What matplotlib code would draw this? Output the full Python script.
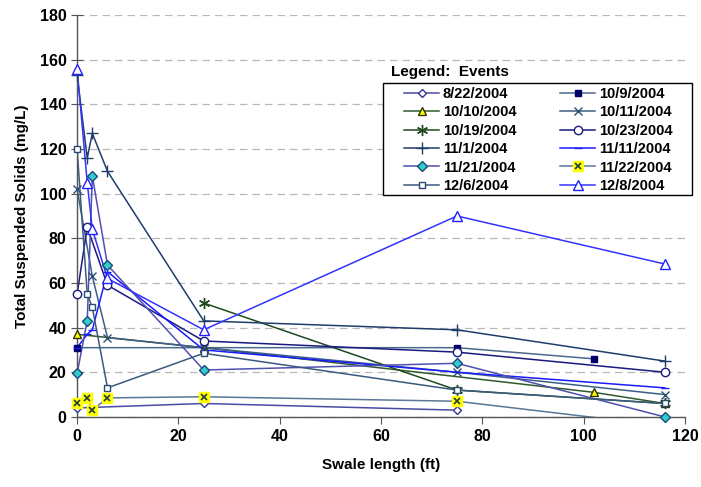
import matplotlib
matplotlib.use("Agg")
import matplotlib.pyplot as plt
from matplotlib.legend_handler import HandlerTuple
from matplotlib.lines import Line2D
from matplotlib.patches import Rectangle

plt.rcParams['font.family'] = ['Liberation Sans', 'DejaVu Sans']

# ---- data ----
events = ["8/22/2004", "10/9/2004", "10/10/2004", "10/11/2004", "10/19/2004", "10/23/2004",
          "11/1/2004", "11/11/2004", "11/21/2004", "11/22/2004", "12/6/2004", "12/8/2004"]

x_0822 = [0, 25, 75]
y_0822 = [4, 6, 3]
x_1009 = [0, 75, 102]
y_1009 = [31, 31, 26]
x_1010 = [0, 25, 102, 116]
y_1010 = [37, 31, 11, 6]
x_1011 = [0, 3, 6, 25, 75, 116]
y_1011 = [102, 63, 35.5, 31, 20, 10]
x_1019 = [25, 75, 116]
y_1019 = [51, 12, 6]
x_1023 = [0, 2, 6, 25, 75, 116]
y_1023 = [55, 85, 59, 34, 29, 20]
x_1101 = [0, 2, 3, 6, 25, 75, 116]
y_1101 = [153, 116, 127, 110, 43, 39, 25]
x_1111 = [0, 2, 3, 6, 25, 75, 116]
y_1111 = [31, 37, 39, 65, 30, 20, 13]
x_1121 = [0, 2, 3, 6, 25, 75, 116]
y_1121 = [19.5, 43, 108, 68, 21, 24, 0]
x_1122 = [0, 2, 3, 6, 25, 75, 116]
y_1122 = [6, 8.5, 3, 8.5, 9, 7, -4]
x_1206 = [0, 2, 3, 6, 25, 75, 116]
y_1206 = [120, 55, 49, 13, 28.5, 12, 6]
x_1208 = [0, 2, 3, 6, 25, 75, 116]
y_1208 = [156, 105, 84, 62, 39, 90, 68.5]

xs = [x_0822, x_1009, x_1010, x_1011, x_1019, x_1023, x_1101, x_1111, x_1121, x_1122, x_1206, x_1208]
ys = [y_0822, y_1009, y_1010, y_1011, y_1019, y_1023, y_1101, y_1111, y_1121, y_1122, y_1206, y_1208]

yticks = [0, 20, 40, 60, 80, 100, 120, 140, 160, 180]
xticks = [0, 20, 40, 60, 80, 100, 120]

# styles: (line color, marker, marker face, marker edge, size)
styles = [
    ("#4a4aa6", "D", "white", "#33339a", 4),
    ("#4a6a8c", "s", "#000066", "#000066", 4.5),
    ("#2e5a2e", "^", "#ffff00", "#333300", 6),
    ("#3c5f86", "x", "none", "#2c4f76", 6),
    ("#1f4a1f", (6, 2, 0), "none", "#1f4a1f", 8),
    ("#1a1a80", "o", "white", "#1a1a80", 6),
    ("#1f3d6a", "+", "none", "#1f3d6a", 9),
    ("#1a1aff", "_", "none", "#1a1aff", 6),
    ("#5050b0", "D", "#33cccc", "#1a4a7a", 5),
    ("#587898", "x", "none", "#1f3d3d", 5),
    ("#3a5a80", "s", "white", "#2a4a70", 4.5),
    ("#3333ff", "^", "white", "#2020ff", 6.5),
]

W, H = 701, 487
fig = plt.figure(figsize=(W / 100, H / 100), dpi=100)
ax = fig.add_axes([0.110, 0.144, 0.867, 0.825])

handles = []
for i, (ev, xv, yv) in enumerate(zip(events, xs, ys)):
    lc, mk, mf, me, ms = styles[i]
    ax.plot(xv, yv, color=lc, lw=1.1, zorder=2)
    mx = [a for a, b in zip(xv, yv) if b >= 0]
    my = [b for b in yv if b >= 0]
    if ev == "11/22/2004":
        ax.plot(mx, my, linestyle="none", marker="s", markersize=7,
                markerfacecolor="#ffff00", markeredgecolor="#ffff00", zorder=3, clip_on=False)
        ax.plot(mx, my, linestyle="none", marker=mk, markersize=ms,
                markerfacecolor=mf, markeredgecolor=me, markeredgewidth=1.2, zorder=4, clip_on=False)
        bg = Line2D([], [], linestyle="none", marker="s", markersize=7,
                    markerfacecolor="#ffff00", markeredgecolor="#ffff00")
        fg = Line2D([], [], color=lc, lw=1.1, marker=mk, markersize=ms,
                    markerfacecolor=mf, markeredgecolor=me, markeredgewidth=1.2)
        handles.append((fg, bg, Line2D([], [], linestyle="none", marker=mk, markersize=ms,
                                       markeredgecolor=me, markeredgewidth=1.2)))
    else:
        ax.plot(mx, my, linestyle="none", marker=mk, markersize=ms,
                markerfacecolor=mf, markeredgecolor=me, markeredgewidth=1.0, zorder=3, clip_on=False)
        handles.append(Line2D([], [], color=lc, lw=1.1, marker=mk, markersize=ms,
                              markerfacecolor=mf, markeredgecolor=me, markeredgewidth=1.0))

ax.set_xlim(0, 120)
ax.set_ylim(0, 180)
ax.set_xticks(xticks)
ax.set_yticks(yticks)
ax.yaxis.grid(True, linestyle=(0, (6, 4)), color="#b8b8b8", lw=0.9)
ax.set_axisbelow(True)
for s in ["top", "right"]:
    ax.spines[s].set_visible(False)
for s in ["left", "bottom"]:
    ax.spines[s].set_color("#555555")
    ax.spines[s].set_linewidth(1.0)
ax.tick_params(axis="y", direction="inout", length=8, color="#555555", labelsize=11.5)
ax.tick_params(axis="x", direction="out", length=5, color="#555555", labelsize=11.5)
for lab in ax.get_xticklabels() + ax.get_yticklabels():
    lab.set_fontweight("bold")

ax.set_xlabel("Swale length (ft)", fontsize=11, fontweight="bold", labelpad=10)
ax.set_ylabel("Total Suspended Solids (mg/L)", fontsize=11, fontweight="bold", labelpad=8)

# legend frame drawn separately
box = Rectangle((383 / W, 1 - 195 / H), (692 - 383) / W, (195 - 83) / H,
                transform=fig.transFigure, facecolor="white", edgecolor="black",
                lw=1.0, zorder=9)
fig.add_artist(box)

# legend: row-wise order -> column-wise for matplotlib
order = [0, 2, 4, 6, 8, 10, 1, 3, 5, 7, 9, 11]
leg = fig.legend([handles[k] for k in order], [events[k] for k in order],
                 ncol=2, loc="upper left", bbox_to_anchor=(404 / W, 1 - 87 / H),
                 frameon=False,
                 prop={"weight": "bold", "size": 10.5}, handlelength=2.4,
                 handletextpad=0.25, columnspacing=3.0, labelspacing=0.3,
                 borderpad=0.0, borderaxespad=0,
                 handler_map={tuple: HandlerTuple(ndivide=1, pad=0)})
leg.set_zorder(10)
fig.text(391 / W, 1 - 72 / H, "Legend:  Events", fontsize=11, fontweight="bold",
         va="center", ha="left")

fig.savefig("out.png", dpi=100)
